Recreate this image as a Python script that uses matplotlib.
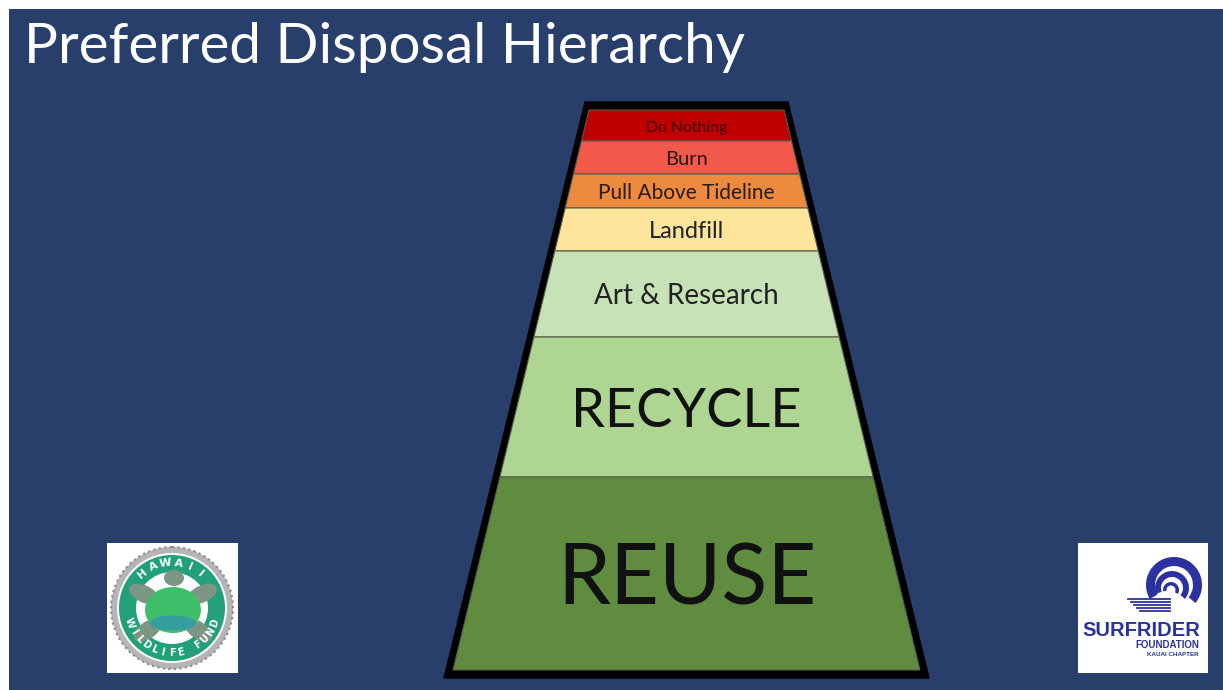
import numpy as np
import matplotlib
matplotlib.use("Agg")
import matplotlib.pyplot as plt
from matplotlib.patches import Polygon, Rectangle, Circle, Ellipse, Wedge

# --- DATA ---
TITLE = "Preferred Disposal Hierarchy"
layer_labels = ["Do Nothing", "Burn", "Pull Above Tideline", "Landfill",
                "Art & Research", "RECYCLE", "REUSE"]
layer_heights = [31, 33, 34, 43, 86, 140, 193]   # top to bottom, px
layer_colors = ["#c00000", "#f2594b", "#ee8a3d", "#fde59b",
                "#c8e2b7", "#aed592", "#5f8c3f"]
layer_text_colors = ["#3a0505", "#2a1010", "#2a1a10", "#222222",
                     "#222222", "#111111", "#111111"]
layer_font_sizes = [11.3, 14.5, 15, 17, 20, 39, 61]

BG = "#283f6b"
FONT = "Lato"

# --- FIGURE (pixel coordinates) ---
W, H = 1223, 690
fig = plt.figure(figsize=(W / 100, H / 100), dpi=100, facecolor="white")
ax = fig.add_axes([0, 0, 1, 1])
ax.set_xlim(0, W)
ax.set_ylim(H, 0)
ax.axis("off")

ax.add_patch(Rectangle((9, 9), W - 9, H - 9, facecolor=BG, edgecolor="none"))
ax.text(24, 63, TITLE, color="white", fontsize=40.8, family=FONT,
        va="baseline", ha="left")

# --- PYRAMID ---
cx = 686.5
outer = [(585, 102), (788, 102), (929, 678), (444, 678)]
ax.add_patch(Polygon(outer, closed=True, facecolor="black", edgecolor="black"))

top_y, bot_y = 110, 670
left_top, left_bot = 589, 453


def half_width(y):
    x = left_top + (left_bot - left_top) * (y - top_y) / (bot_y - top_y)
    return cx - x


y = top_y
for lab, h, col, tcol, fs in zip(layer_labels, layer_heights, layer_colors,
                                  layer_text_colors, layer_font_sizes):
    y0, y1 = y, y + h
    w0, w1 = half_width(y0), half_width(y1)
    pts = [(cx - w0, y0), (cx + w0, y0), (cx + w1, y1), (cx - w1, y1)]
    ax.add_patch(Polygon(pts, closed=True, facecolor=col,
                         edgecolor="#5a5a4a", linewidth=0.8))
    base = (y0 + y1) / 2 + 0.5 * fs + 0.5
    ax.text(cx, base, lab, color=tcol, fontsize=fs, family=FONT,
            ha="center", va="baseline")
    y = y1

# --- LEFT LOGO (Hawaii Wildlife Fund) ---
ax.add_patch(Rectangle((107, 543), 131, 130, facecolor="white", edgecolor="none"))
lc = (172, 608)
ax.add_patch(Circle(lc, 61, facecolor="#b5b5b5", edgecolor="#8a8a8a",
                    linewidth=1.5, linestyle=":"))
ax.add_patch(Circle(lc, 55, facecolor="white", edgecolor="none"))
ax.add_patch(Circle(lc, 53, facecolor="#21a07a", edgecolor="none"))
ax.add_patch(Circle(lc, 36, facecolor="white", edgecolor="none"))
# turtle head and flippers
ax.add_patch(Ellipse((lc[0] + 2, lc[1] - 30), 20, 16, facecolor="#7d9683",
                     edgecolor="none"))
for dx, dy, ang in [(-28, -14, 25), (30, -14, -25), (-24, 22, -35), (26, 22, 35)]:
    ax.add_patch(Ellipse((lc[0] + dx, lc[1] + dy), 32, 17, angle=ang,
                         facecolor="#7d9683", edgecolor="none"))
ax.add_patch(Ellipse((lc[0] + 1, lc[1] + 2), 56, 46, facecolor="#3fbf6a",
                     edgecolor="none"))
ax.add_patch(Ellipse((lc[0] + 1, lc[1] + 15), 46, 15, facecolor="#2f8fb8",
                     edgecolor="none", alpha=0.7))


def arc_text(text, center, r, a_start, a_end, fs):
    angs = np.linspace(a_start, a_end, len(text))
    for ch, a in zip(text, angs):
        xa = center[0] + r * np.cos(np.radians(a))
        ya = center[1] - r * np.sin(np.radians(a))
        rot = a - 90 if np.sin(np.radians(a)) >= 0 else a + 90
        ax.text(xa, ya, ch, color="white", fontsize=fs, fontweight="bold",
                family="DejaVu Sans", ha="center", va="center", rotation=rot)


arc_text("HAWAII", lc, 45, 130, 50, 8)
arc_text("WILDLIFE FUND", lc, 45, 200, 340, 7)

# --- RIGHT LOGO (Surfrider Foundation) ---
ax.add_patch(Rectangle((1078, 543), 130, 130, facecolor="white", edgecolor="none"))
blue = "#2b32a0"
# y axis is inverted, so angles run clockwise on screen
for c, r, wdt, a0, a1 in [((1174, 585), 28, 9, 150, 400),
                          ((1172, 588), 17, 6, 160, 400),
                          ((1171, 590), 8, 3.5, 170, 390)]:
    ax.add_patch(Wedge(c, r, a0, a1, width=wdt, facecolor=blue,
                       edgecolor="none"))
for i, yy in enumerate(range(599, 612, 3)):
    ax.plot([1128 + i * 3, 1170], [yy, yy], color=blue, linewidth=1.3)
ax.text(1141, 636, "SURFRIDER", color=blue, fontsize=14.5, fontweight="bold",
        family="Liberation Sans", ha="center", va="baseline")
ax.text(1199, 648, "FOUNDATION", color=blue, fontsize=7, fontweight="bold",
        family="Liberation Sans", ha="right", va="baseline")
ax.text(1199, 656, "KAUAI CHAPTER", color=blue, fontsize=4.5, fontweight="bold",
        family="Liberation Sans", ha="right", va="baseline")

fig.savefig("out.png", dpi=100, facecolor="white")
